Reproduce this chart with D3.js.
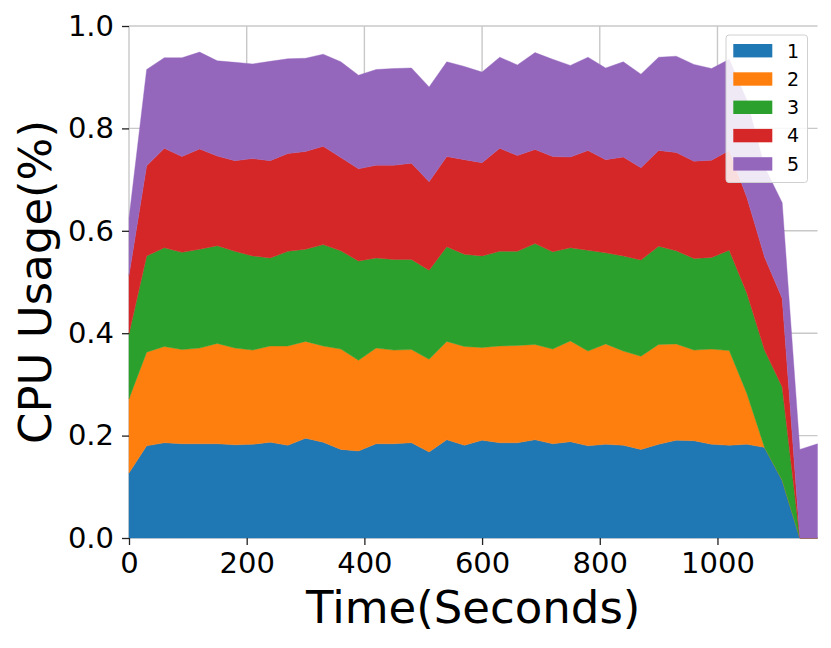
<!DOCTYPE html>
<html>
<head>
<meta charset="utf-8">
<script src="https://cdn.jsdelivr.net/npm/d3@7"></script>
<style>
  body { margin: 0; background: #fff; }
  text { font-family: "DejaVu Sans", sans-serif; fill: #000; }
</style>
</head>
<body>
<div id="chart"></div>
<script>
// Sample times (seconds)
const times = [0, 30, 60, 90, 120, 150, 180, 210, 240, 270, 300, 330, 360, 390, 420, 450,
  480, 510, 540, 570, 600, 630, 660, 690, 720, 750, 780, 810, 840, 870, 900, 930, 960, 990,
  1020, 1050, 1080, 1110, 1140, 1170];

// CPU usage per core (stacked in this order)
const core1 = [0.127, 0.180, 0.186, 0.184, 0.184, 0.184, 0.182, 0.183, 0.187, 0.181, 0.195, 0.187,
  0.173, 0.170, 0.184, 0.184, 0.186, 0.168, 0.192, 0.181, 0.191, 0.186, 0.186, 0.192, 0.184, 0.188,
  0.180, 0.183, 0.181, 0.173, 0.183, 0.191, 0.190, 0.183, 0.181, 0.183, 0.177, 0.113, 0, 0];
const core2 = [0.145, 0.183, 0.188, 0.184, 0.187, 0.196, 0.189, 0.184, 0.188, 0.194, 0.189, 0.188,
  0.196, 0.177, 0.187, 0.183, 0.182, 0.181, 0.192, 0.193, 0.181, 0.189, 0.190, 0.186, 0.185, 0.197,
  0.185, 0.196, 0.184, 0.182, 0.195, 0.188, 0.177, 0.186, 0.185, 0.099, 0, 0, 0, 0];
const core3 = [0.127, 0.188, 0.193, 0.190, 0.193, 0.191, 0.189, 0.184, 0.172, 0.185, 0.180, 0.198,
  0.192, 0.194, 0.176, 0.177, 0.176, 0.174, 0.185, 0.180, 0.179, 0.185, 0.184, 0.197, 0.190, 0.182,
  0.197, 0.178, 0.186, 0.188, 0.192, 0.182, 0.179, 0.179, 0.196, 0.196, 0.190, 0.182, 0, 0];
const core4 = [0.114, 0.176, 0.194, 0.187, 0.196, 0.175, 0.177, 0.190, 0.190, 0.191, 0.191, 0.192,
  0.182, 0.180, 0.181, 0.184, 0.188, 0.173, 0.176, 0.185, 0.182, 0.201, 0.187, 0.184, 0.186, 0.177,
  0.195, 0.182, 0.193, 0.180, 0.187, 0.192, 0.190, 0.190, 0.195, 0.187, 0.182, 0.173, 0, 0];
const core5 = [0.112, 0.188, 0.177, 0.193, 0.189, 0.186, 0.192, 0.185, 0.194, 0.185, 0.182, 0.180,
  0.187, 0.183, 0.187, 0.189, 0.186, 0.185, 0.185, 0.182, 0.177, 0.178, 0.177, 0.189, 0.190, 0.179,
  0.182, 0.179, 0.186, 0.183, 0.182, 0.188, 0.189, 0.179, 0.178, 0.190, 0.176, 0.187, 0.173, 0.184];

const seriesNames = ["1", "2", "3", "4", "5"];
const colors = ["#1f77b4", "#ff7f0e", "#2ca02c", "#d62728", "#9467bd"];
const xTicks = [0, 200, 400, 600, 800, 1000];
const yTicks = [0, 0.2, 0.4, 0.6, 0.8, 1.0];

const width = 831, height = 648;
const margin = { left: 129, right: 13.5, top: 26, bottom: 110 };

const svg = d3.select("#chart").append("svg")
  .attr("width", width)
  .attr("height", height);

const x = d3.scaleLinear().domain([0, 1170]).range([margin.left, width - margin.right]);
const y = d3.scaleLinear().domain([0, 1]).range([height - margin.bottom, margin.top]);

// Build rows for d3.stack
const cores = [core1, core2, core3, core4, core5];
const rows = times.map((t, i) => {
  const r = { t: t };
  seriesNames.forEach((n, k) => { r[n] = cores[k][i]; });
  return r;
});
const stacked = d3.stack().keys(seriesNames)(rows);

// Grid lines (under the areas)
const grid = svg.append("g");
grid.selectAll(".gx").data(xTicks).enter().append("line")
  .attr("x1", d => x(d)).attr("x2", d => x(d))
  .attr("y1", y(0)).attr("y2", y(1))
  .attr("stroke", "#c8c8c8").attr("stroke-width", 1.4);
grid.selectAll(".gy").data(yTicks).enter().append("line")
  .attr("x1", x(0)).attr("x2", x(1170))
  .attr("y1", d => y(d)).attr("y2", d => y(d))
  .attr("stroke", "#c8c8c8").attr("stroke-width", 1.4);

// Stacked areas
const area = d3.area()
  .x(d => x(d.data.t))
  .y0(d => y(d[0]))
  .y1(d => y(d[1]));

svg.append("g").selectAll("path")
  .data(stacked)
  .enter().append("path")
  .attr("d", area)
  .attr("fill", (d, i) => colors[i])
  .attr("stroke", (d, i) => colors[i])
  .attr("stroke-width", 0.4);

// Axes: ticks only, no domain line
const xAxis = svg.append("g")
  .attr("transform", `translate(0,${y(0)})`)
  .call(d3.axisBottom(x).tickValues(xTicks).tickSize(7).tickPadding(7).tickFormat(d3.format("d")));
const yAxis = svg.append("g")
  .attr("transform", `translate(${x(0)},0)`)
  .call(d3.axisLeft(y).tickValues(yTicks).tickSize(7).tickPadding(8).tickFormat(d3.format(".1f")));

[xAxis, yAxis].forEach(a => {
  a.select(".domain").remove();
  a.selectAll(".tick line").attr("stroke", "#222").attr("stroke-width", 1.3);
  a.selectAll(".tick text")
    .attr("fill", "#000")
    .style("font-family", "DejaVu Sans, sans-serif")
    .style("font-size", "29px");
});

// Axis labels
svg.append("text")
  .attr("x", (x(0) + x(1170)) / 2)
  .attr("y", 623)
  .attr("text-anchor", "middle")
  .style("font-size", "45px")
  .text("Time(Seconds)");

svg.append("text")
  .attr("transform", `translate(51,${(y(0) + y(1)) / 2}) rotate(-90)`)
  .attr("text-anchor", "middle")
  .style("font-size", "45px")
  .text("CPU Usage(%)");

// Legend
const legend = svg.append("g").attr("transform", "translate(726,35)");
legend.append("rect")
  .attr("width", 81.5).attr("height", 147.5)
  .attr("rx", 3).attr("ry", 3)
  .attr("fill", "#fff").attr("fill-opacity", 0.85)
  .attr("stroke", "#d0d0d0").attr("stroke-width", 1);

const item = legend.selectAll(".item")
  .data(seriesNames)
  .enter().append("g")
  .attr("transform", (d, i) => `translate(0,${15.7 + i * 28.3})`);
item.append("rect")
  .attr("x", 7.3).attr("y", -6.7)
  .attr("width", 39).attr("height", 13.4)
  .attr("fill", (d, i) => colors[i]);
item.append("text")
  .attr("x", 61)
  .attr("dy", "0.36em")
  .style("font-size", "19px")
  .text(d => d);
</script>
</body>
</html>
